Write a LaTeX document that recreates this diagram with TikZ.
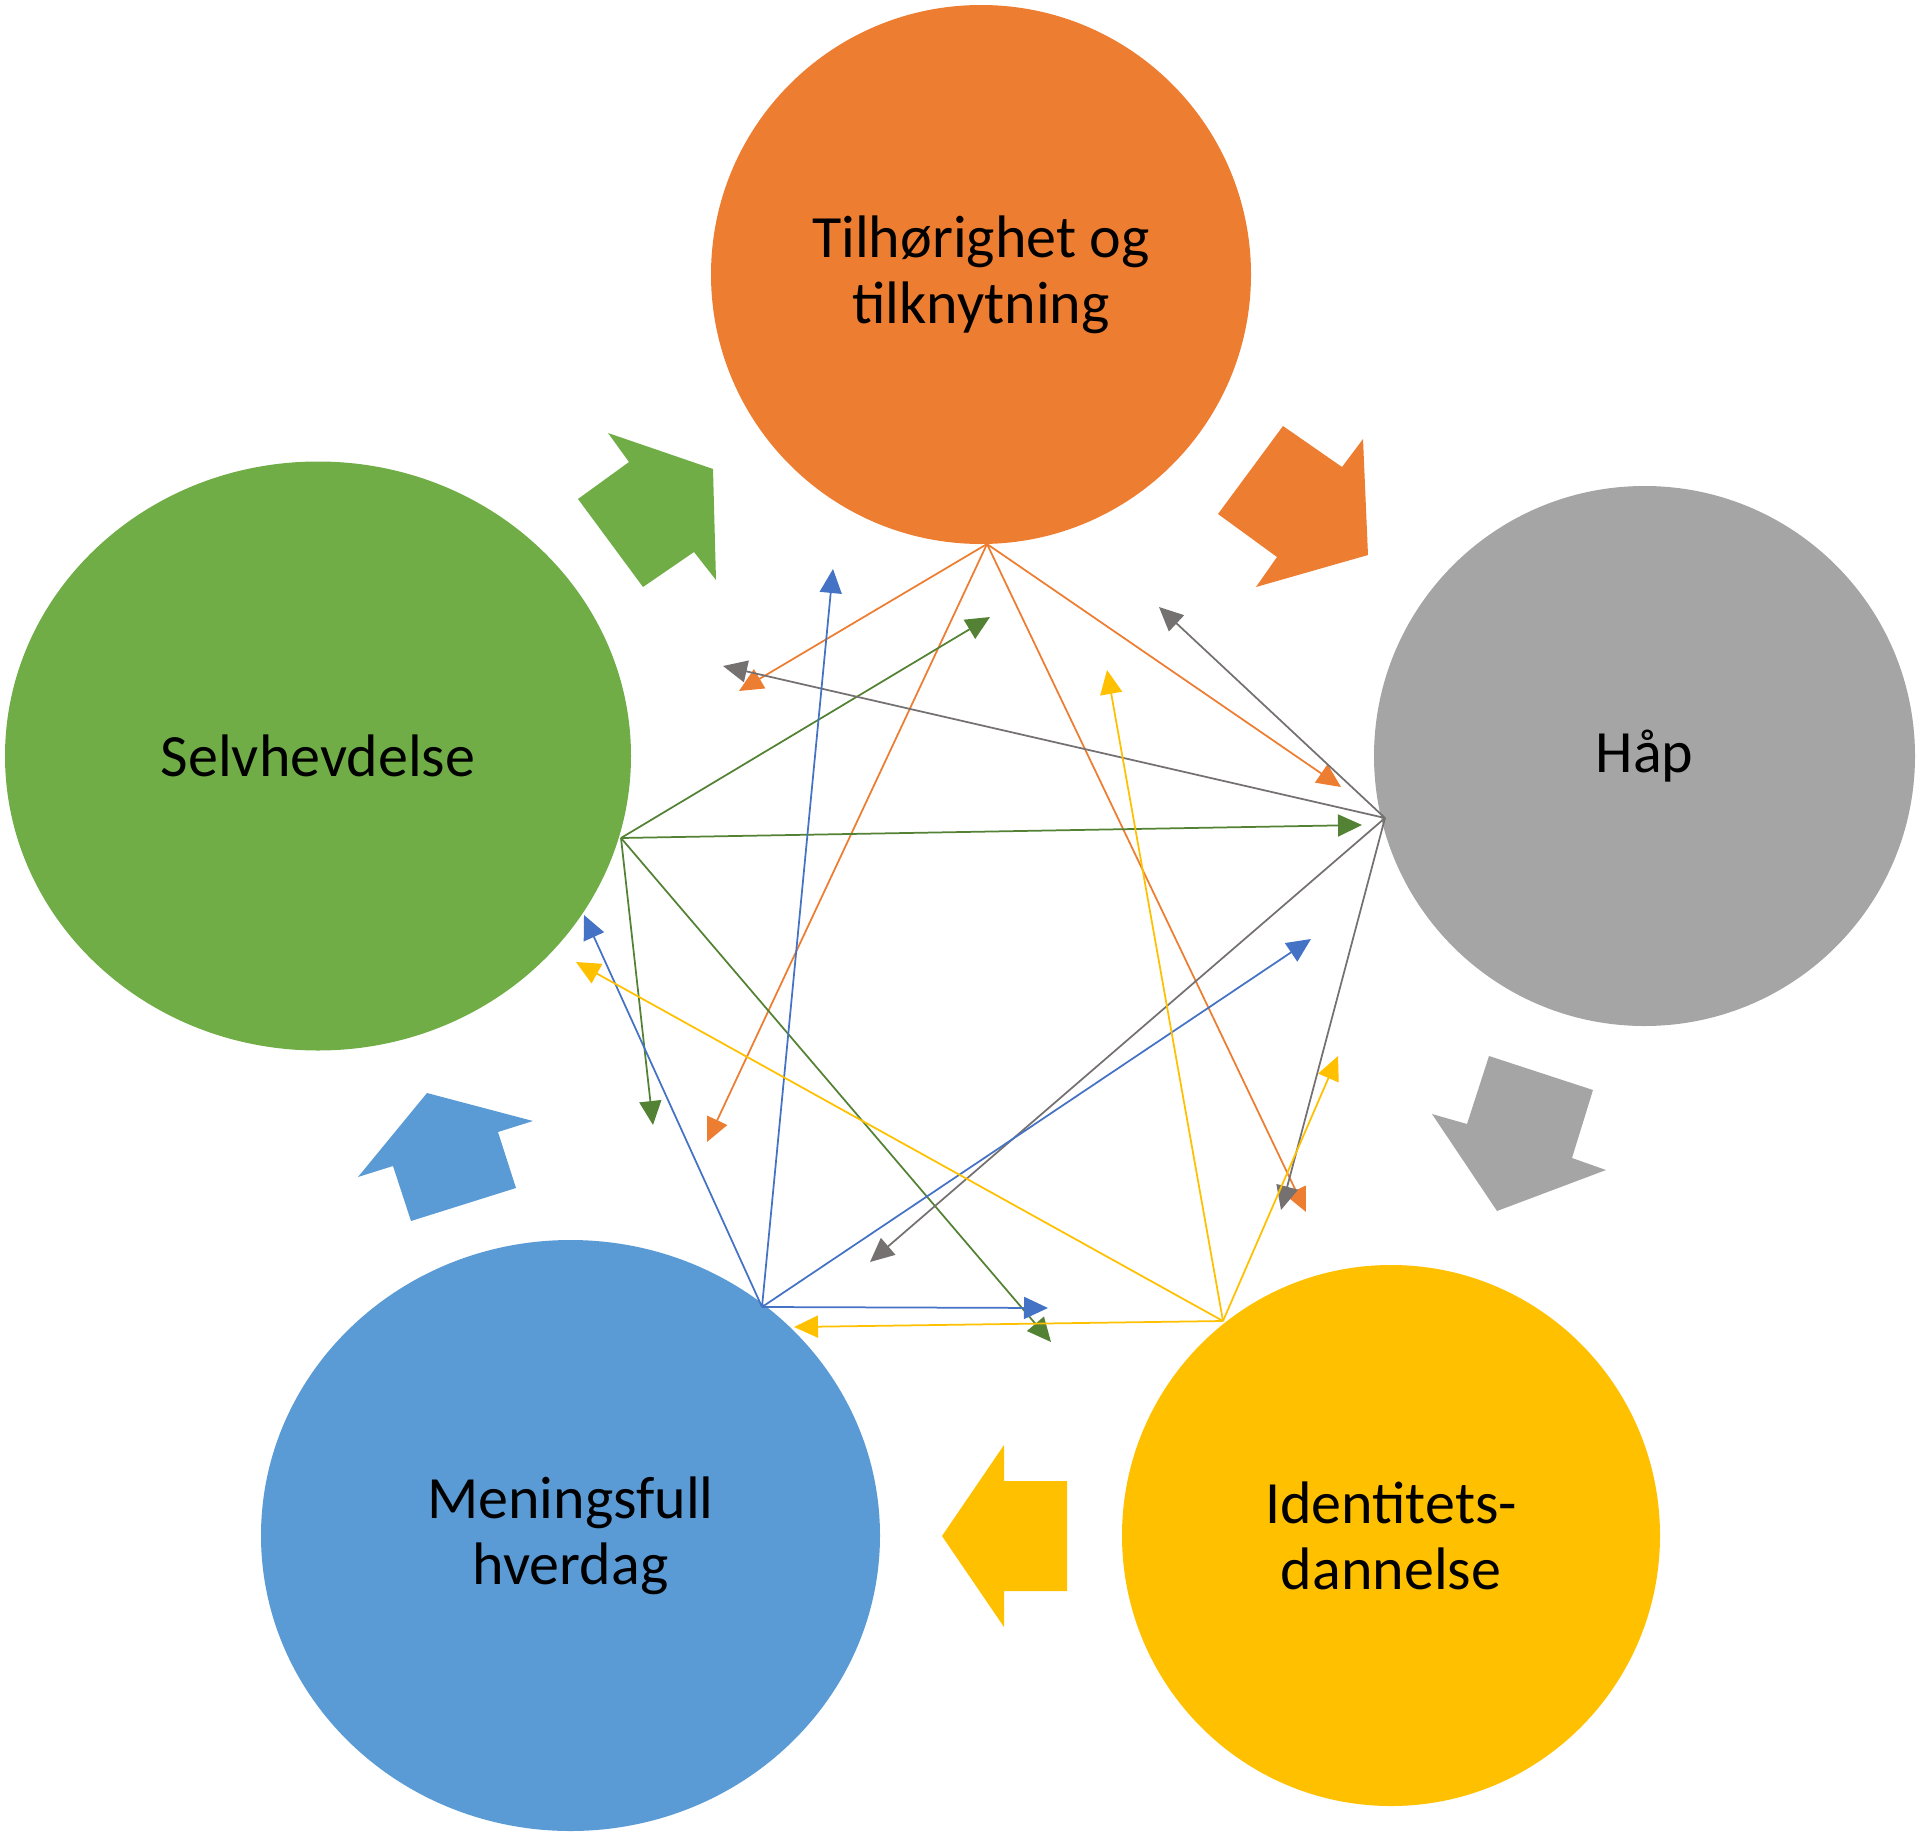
\documentclass[tikz,border=0pt]{standalone}
\usepackage{fontspec}
\setmainfont{Carlito}
\usetikzlibrary{arrows.meta,shapes.geometric}
\definecolor{cOr}{HTML}{ED7D31}
\definecolor{cGy}{HTML}{A5A5A5}
\definecolor{cGr}{HTML}{70AD47}
\definecolor{cBl}{HTML}{5B9BD5}
\definecolor{cYe}{HTML}{FFC000}
\definecolor{lOr}{HTML}{ED7D31}
\definecolor{lGr}{HTML}{548235}
\definecolor{lGy}{HTML}{767171}
\definecolor{lBl}{HTML}{4472C4}
\definecolor{lYe}{HTML}{FFC000}
\begin{document}
\begin{tikzpicture}[x=1pt,y=-1pt,
  bubble/.style={ellipse,draw=none,inner sep=0pt,align=center,text=black,
    font=\fontsize{60}{66}\selectfont},
  link/.style={line width=1.75pt,-{Triangle[length=24pt,width=22pt]}},
  blockarrow/.style={draw=none}]
\useasboundingbox (0,0) rectangle (1920,1836);

% circles
\node[bubble,fill=cOr,minimum width=540pt,minimum height=539pt] (tilh) at (981,274.5) {Tilhørighet og\\tilknytning};
\node[bubble,fill=cGy,minimum width=541pt,minimum height=540pt] (haap) at (1644.5,756) {Håp};
\node[bubble,fill=cGr,minimum width=626pt,minimum height=589pt] (selv) at (318,756) {Selvhevdelse};
\node[bubble,fill=cBl,minimum width=619pt,minimum height=591pt] (mening) at (570.5,1535.5) {Meningsfull\\hverdag};
\node[bubble,fill=cYe,minimum width=538pt,minimum height=541pt] (ident) at (1391,1535.5) {Identitets-\\dannelse};

% block arrows
\fill[cGr] (608,433) -- (713,469) -- (716,580) -- (694,552) -- (643,587) -- (578,499) -- (629,462) -- cycle;
\fill[cOr] (1283,426) -- (1342,467) -- (1363,439) -- (1368,555) -- (1256,587) -- (1277,557) -- (1218,514) -- cycle;
\fill[cGy] (1489,1056) -- (1593,1090) -- (1572,1158) -- (1606,1170) -- (1497,1211) -- (1432,1114) -- (1467,1124) -- cycle;
\fill[cYe] (942,1536) -- (1004,1445) -- (1004,1481) -- (1067,1481) -- (1067,1591) -- (1004,1591) -- (1004,1627) -- cycle;
\fill[cBl] (427,1093) -- (533,1121) -- (498,1132) -- (516,1188) -- (411,1221) -- (393,1166) -- (358,1177) -- cycle;

% connection points
\coordinate (pT) at (987,544);
\coordinate (pH) at (1385,818);
\coordinate (pS) at (621,838);
\coordinate (pM) at (762,1307);
\coordinate (pI) at (1223,1321);

% tips
\coordinate (oA) at (739,691);
\coordinate (oB) at (707,1142);
\coordinate (oC) at (1341,787);
\coordinate (oD) at (1306,1212);
\coordinate (gA) at (990,617);
\coordinate (gB) at (1362,825);
\coordinate (gC) at (653,1125);
\coordinate (gD) at (1051,1342);
\coordinate (yA) at (723,666);
\coordinate (yB) at (1159,607);
\coordinate (yC) at (870,1262);
\coordinate (yD) at (1281,1210);
\coordinate (bA) at (833,569);
\coordinate (bB) at (584,915);
\coordinate (bC) at (1311,939);
\coordinate (bD) at (1048,1308);
\coordinate (eA) at (1107,670);
\coordinate (eB) at (576,962);
\coordinate (eC) at (1338,1056);
\coordinate (eD) at (794,1327);

% links
\foreach \t in {oA,oB,oC,oD} \draw[link,lOr] (pT) -- (\t);
\foreach \t in {gA,gB,gC,gD} \draw[link,lGr] (pS) -- (\t);
\foreach \t in {yA,yB,yC,yD} \draw[link,lGy] (pH) -- (\t);
\foreach \t in {bA,bB,bC,bD} \draw[link,lBl] (pM) -- (\t);
\foreach \t in {eA,eB,eC,eD} \draw[link,lYe] (pI) -- (\t);
\end{tikzpicture}
\end{document}
